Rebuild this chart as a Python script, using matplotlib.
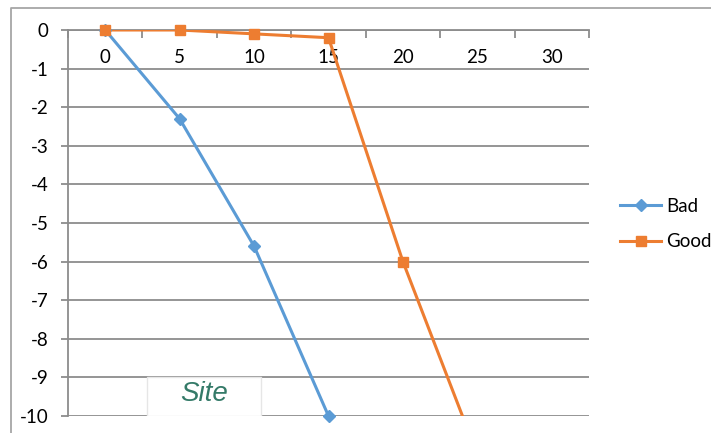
import numpy as np
import matplotlib.pyplot as plt
from matplotlib.lines import Line2D
from matplotlib.patches import Rectangle

# Categories along the top axis and the two series (depth values)
categories = ['0', '5', '10', '15', '20', '25', '30']
bad = [0, -2.3, -5.6, -10.0]
good = [0, 0, -0.1, -0.2, -6.0, -11.0]

BLUE = '#5b9bd5'
ORANGE = '#ed7d31'
GRID = '#8c8c8c'
FS = 13.5

plt.rcParams['font.family'] = ['Lato', 'DejaVu Sans']

W, H = 711, 433
fig = plt.figure(figsize=(W / 100, H / 100), dpi=100)
ax = fig.add_axes([68 / W, 1 - 416 / H, (589 - 68) / W, (416 - 30) / H])

ymin, ymax = -10, 0
ax.set_ylim(ymin, ymax)
ax.set_xlim(-0.5, len(categories) - 0.5)

# horizontal gridlines (the -10 line doubles as the bottom edge)
ax.set_yticks(np.arange(ymin, ymax + 1, 1))
ax.set_yticklabels([str(v) for v in range(ymin, ymax + 1)])
ax.yaxis.grid(True, color=GRID, lw=1.3)
ax.set_axisbelow(True)

# category axis sits on y=0 at the top, ticks between categories
ax.xaxis.set_ticks_position('top')
ax.set_xticks(np.arange(-0.5, len(categories), 1))
ax.set_xticklabels([])
ax.set_xticks(np.arange(len(categories)), minor=True)
ax.set_xticklabels(categories, minor=True)
ax.tick_params(axis='x', which='major', direction='in', length=6, width=1.3,
               color=GRID)
ax.tick_params(axis='x', which='minor', length=0, pad=-26, labelsize=FS,
               labeltop=True, labelbottom=False)
ax.tick_params(axis='y', direction='out', length=5, width=1.3, color=GRID,
               pad=9, labelsize=FS)

for side in ('right', 'bottom'):
    ax.spines[side].set_visible(False)
for side in ('left', 'top'):
    ax.spines[side].set_color(GRID)
    ax.spines[side].set_linewidth(1.3)

# series lines (clipped to the plot area) and markers
series = [('Bad', bad, BLUE, 'D', 6), ('Good', good, ORANGE, 's', 7)]
for name, vals, col, mk, ms in series:
    x = np.arange(len(vals))
    y = np.array(vals)
    ax.plot(x, y, color=col, lw=2.2, zorder=3, solid_capstyle='butt')
    inside = (y >= ymin) & (y <= ymax)
    ax.plot(x[inside], y[inside], ls='none', marker=mk, ms=ms, color=col,
            zorder=4, clip_on=False)

# label box near the bottom
ax.add_patch(Rectangle((0.56, -10), 1.53, 1, facecolor='white',
                       edgecolor='#e6e6e6', lw=1, zorder=2))
ax.text(1.33, -9.42, 'Site', color='#347a68', fontsize=20, style='italic',
        family='Liberation Sans', ha='center', va='center', zorder=5)

handles = [Line2D([], [], color=c, lw=2.2, marker=m, ms=s)
           for _, _, c, m, s in series]
fig.legend(handles, [n for n, *_ in series], loc='center left',
           bbox_to_anchor=(620 / W, 1 - 224 / H), frameon=False,
           fontsize=FS, handlelength=2.2, handletextpad=0.25,
           labelspacing=1.0, borderpad=0, borderaxespad=0)

# outer chart border (left and top edges)
fig.add_artist(Line2D([11 / W, 11 / W, 1], [0, 1 - 8 / H, 1 - 8 / H],
                      transform=fig.transFigure, color='#a6a6a6', lw=1.3))

fig.savefig('out.png', dpi=100)
